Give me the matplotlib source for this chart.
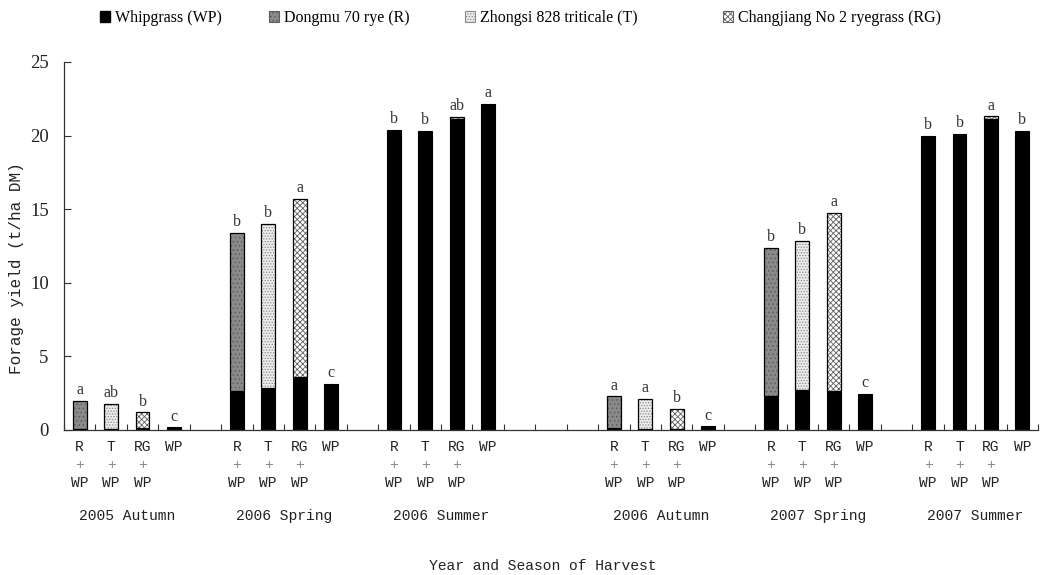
import numpy as np
import matplotlib
matplotlib.use("Agg")
import matplotlib.pyplot as plt
from matplotlib.transforms import blended_transform_factory
from matplotlib.patches import Patch


# data (t/ha DM)
seasons = ['2005 Autumn', '2006 Spring', '2006 Summer',
           '2006 Autumn', '2007 Spring', '2007 Summer']
treat_top = ['R', 'T', 'RG', 'WP']
treat_bottom = ['WP', 'WP', 'WP', '']

# whipgrass part of each bar (bottom of stack)
wp_yield = [[0.10, 0.05, 0.15, 0.17],
            [2.67, 2.83, 3.58, 3.13],
            [20.39, 20.33, 21.14, 22.16],
            [0.12, 0.05, 0.10, 0.25],
            [2.33, 2.72, 2.65, 2.45],
            [20.00, 20.10, 21.10, 20.30]]
# companion crop part (R, T, RG, none)
comp_yield = [[1.90, 1.70, 1.05, 0.0],
              [10.74, 11.15, 12.14, 0.0],
              [0.0, 0.0, 0.12, 0.0],
              [2.17, 2.08, 1.31, 0.0],
              [10.02, 10.11, 12.08, 0.0],
              [0.0, 0.0, 0.20, 0.0]]
letters = [['a', 'ab', 'b', 'c'],
           ['b', 'b', 'a', 'c'],
           ['b', 'b', 'ab', 'a'],
           ['a', 'a', 'b', 'c'],
           ['b', 'b', 'a', 'c'],
           ['b', 'b', 'a', 'b']]

legend_names = ['Whipgrass (WP)', 'Dongmu 70 rye (R)',
                'Zhongsi 828 triticale (T)', 'Changjiang No 2 ryegrass (RG)']

# layout: first slot of each season on a 31-slot category axis
group_start = [0, 5, 10, 17, 22, 27]
n_slots = 31

mono = 'Liberation Mono'
serif = 'Liberation Serif'

# (facecolor, hatch, hatchcolor) for R, T, RG
comp_style = [('#8a8a8a', '....', '#5c5c5c'),
              ('#ececec', '......', '#8a8a8a'),
              ('white', 'xxxxxx', '#606060')]

plt.rcParams['hatch.linewidth'] = 0.6

fig = plt.figure(figsize=(10.43, 5.75), dpi=100)
ax = fig.add_axes([64 / 1043, 1 - 430 / 575, (1038 - 64) / 1043, (430 - 62) / 575])

w = 0.44
for g in range(len(seasons)):
    for k in range(4):
        x = group_start[g] + k
        wp = wp_yield[g][k]
        cp = comp_yield[g][k]
        ax.bar(x, wp, width=w, color='black', edgecolor='black', linewidth=0.8, zorder=2)
        if k < 3 and cp > 0:
            fc, hatch, hc = comp_style[k]
            ax.bar(x, cp, bottom=wp, width=w, color=fc, hatch=hatch,
                   edgecolor=hc, linewidth=0, zorder=2)
            ax.bar(x, cp, bottom=wp, width=w, fill=False,
                   edgecolor='black', linewidth=0.9, zorder=3)
        ax.annotate(letters[g][k], (x, wp + cp), xytext=(0, 2),
                    textcoords='offset points', ha='center', va='bottom',
                    fontsize=11.5, family=serif, color='#333333')

ax.set_xlim(-0.5, n_slots - 0.5)
ax.set_ylim(0, 25)
ax.set_yticks(np.arange(0, 26, 5))
ax.set_xticks(np.arange(-0.5, n_slots, 1.0))
ax.set_xticklabels([])
ax.tick_params(axis='x', direction='in', length=4, width=0.8, color='#333333')
ax.tick_params(axis='y', direction='in', length=5, width=0.8, pad=11,
               color='#333333', labelsize=13.5, labelcolor='#222222')
for lab in ax.get_yticklabels():
    lab.set_family(serif)
for s in ['top', 'right']:
    ax.spines[s].set_visible(False)
for s in ['left', 'bottom']:
    ax.spines[s].set_linewidth(0.9)
    ax.spines[s].set_color('#333333')

# category and season labels under the axis
trans = blended_transform_factory(ax.transData, fig.transFigure)
for g in range(len(seasons)):
    for k in range(4):
        x = group_start[g] + k
        ax.text(x, 1 - 447 / 575, treat_top[k], transform=trans, ha='center',
                va='center', family=mono, fontsize=10.5, color='#222222')
        if treat_bottom[k]:
            ax.text(x, 1 - 465 / 575, '+', transform=trans, ha='center',
                    va='center', family=mono, fontsize=10.5, color='#888888')
            ax.text(x, 1 - 483 / 575, treat_bottom[k], transform=trans, ha='center',
                    va='center', family=mono, fontsize=10.5, color='#222222')
    ax.text(group_start[g] + 1.5, 1 - 516 / 575, seasons[g], transform=trans,
            ha='center', va='center', family=mono, fontsize=10.5, color='#222222')

fig.text(543 / 1043, 1 - 566 / 575, 'Year and Season of Harvest', ha='center',
         va='center', family=mono, fontsize=10.5, color='#222222')
fig.text(17 / 1043, 1 - 268 / 575, 'Forage yield (t/ha DM)', ha='center',
         va='center', rotation=90, family=mono, fontsize=11.5, color='#222222')

# legend, one entry at a time like the original
handles = [Patch(facecolor='black', edgecolor='black')]
for fc, hatch, hc in comp_style:
    handles.append(Patch(facecolor=fc, hatch=hatch, edgecolor=hc, linewidth=0.8))
legend_x = [100, 269, 465, 723]
for h, name, lx in zip(handles, legend_names, legend_x):
    fig.legend([h], [name], loc='center left', bbox_to_anchor=(lx / 1043, 1 - 18 / 575),
               frameon=False, borderpad=0, borderaxespad=0, handlelength=0.65,
               handleheight=0.65, handletextpad=0.3, prop={'family': serif, 'size': 11.5})

fig.savefig('out.png', dpi=100)
